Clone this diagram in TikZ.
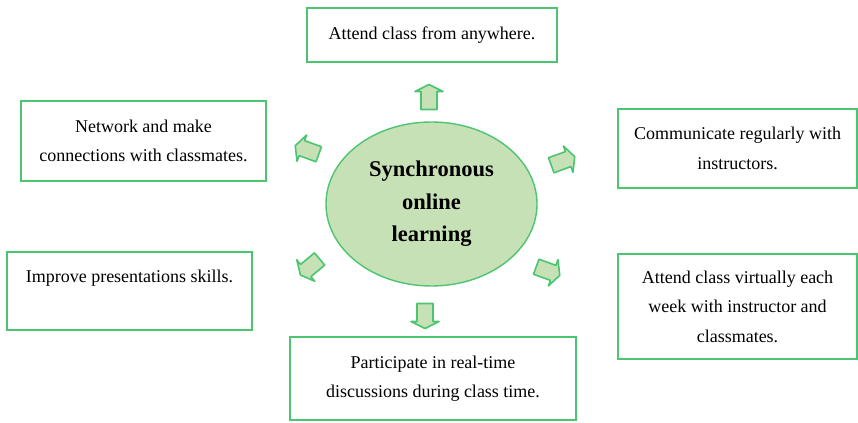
\documentclass[tikz,border=0pt]{standalone}
\usepackage{fontspec}
\setmainfont{Liberation Serif}
\usetikzlibrary{shapes.geometric}
\definecolor{boxgreen}{RGB}{76,196,112}
\definecolor{leafgreen}{RGB}{199,225,182}
\tikzset{
    textbox/.style={draw=boxgreen, line width=0.5mm, fill=white, align=center, inner sep=0pt,
        font=\fontsize{12.8}{21}\selectfont},
}
\newcommand{\drawblockarrow}[2]{
    \begin{scope}[shift={(#1)}]
        \begin{scope}[rotate=#2]
            \draw [line width=0.4mm, draw=boxgreen, fill=leafgreen, line join=round]
                (-0.3125,-0.2) -- (0.1375,-0.2) -- (0.1375,-0.35) -- (0.3125,0)
                -- (0.1375,0.35) -- (0.1375,0.2) -- (-0.3125,0.2) -- cycle;
        \end{scope}
    \end{scope}
}

\begin{document}
\begin{tikzpicture}
    \useasboundingbox (0,0) rectangle (21.45,10.575);
    % centre
    \node [ellipse, draw=boxgreen, fill=leafgreen, line width=0.35mm, minimum width=5.275cm, minimum height=4.1cm,
        align=center, font=\fontsize{16}{23}\selectfont\bfseries] (sync) at (10.7875,5.475) {Synchronous\\online\\learning};
    % boxes
    \node [textbox, minimum width=6.25cm,  minimum height=1.35cm]  (anywhere)      at (10.8,9.7)        {Attend class from anywhere.};
    \node [textbox, minimum width=6.125cm, minimum height=2.0cm]   (network)       at (3.5875,7.05)     {Network and make\\connections with classmates.};
    \node [textbox, minimum width=5.975cm, minimum height=1.975cm] (communicate)   at (18.44,6.8625)    {Communicate regularly with\\instructors.};
    \node [textbox, minimum width=6.125cm, minimum height=1.95cm]  (presentations) at (3.2375,3.3)      {Improve presentations skills.\\\mbox{}};
    \node [textbox, minimum width=5.975cm, minimum height=2.625cm] (virtual)       at (18.4375,2.9125)  {Attend class virtually each\\week with instructor and\\classmates.};
    \node [textbox, minimum width=7.15cm,  minimum height=2.075cm] (discuss)       at (10.825,1.1125)   {Participate in real-time\\discussions during class time.};
    % arrows
    \drawblockarrow{10.725,8.15}{90};
    \drawblockarrow{7.675,6.825}{160};
    \drawblockarrow{14.075,6.55}{20};
    \drawblockarrow{7.75,3.9}{220};
    \drawblockarrow{13.7,3.8}{-20};
    \drawblockarrow{10.625,2.675}{-90};
\end{tikzpicture}
\end{document}
